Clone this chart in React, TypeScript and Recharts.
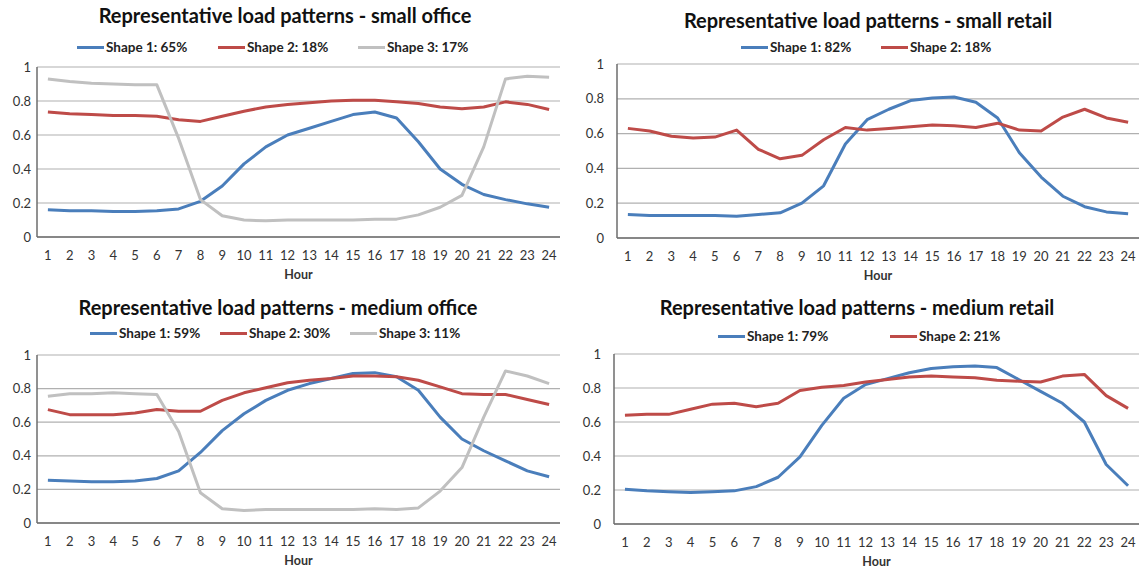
import { LineChart, Line, XAxis, YAxis, CartesianGrid } from "recharts"

const hours = [1, 2, 3, 4, 5, 6, 7, 8, 9, 10, 11, 12, 13, 14, 15, 16, 17, 18, 19, 20, 21, 22, 23, 24]
const yTicks = [0, 0.2, 0.4, 0.6, 0.8, 1]

// small office
const smallOffice1 = [0.16, 0.155, 0.155, 0.15, 0.15, 0.155, 0.165, 0.21, 0.3, 0.43, 0.53, 0.6, 0.64, 0.68, 0.72, 0.735, 0.7, 0.56, 0.4, 0.31, 0.25, 0.22, 0.195, 0.175]
const smallOffice2 = [0.735, 0.725, 0.72, 0.715, 0.715, 0.71, 0.69, 0.68, 0.71, 0.74, 0.765, 0.78, 0.79, 0.8, 0.805, 0.805, 0.795, 0.785, 0.765, 0.755, 0.765, 0.795, 0.78, 0.75]
const smallOffice3 = [0.93, 0.915, 0.905, 0.9, 0.895, 0.895, 0.58, 0.22, 0.125, 0.1, 0.095, 0.1, 0.1, 0.1, 0.1, 0.105, 0.105, 0.13, 0.175, 0.245, 0.53, 0.93, 0.945, 0.94]

// small retail
const smallRetail1 = [0.135, 0.13, 0.13, 0.13, 0.13, 0.125, 0.135, 0.145, 0.2, 0.3, 0.54, 0.68, 0.74, 0.79, 0.805, 0.81, 0.78, 0.69, 0.49, 0.35, 0.24, 0.18, 0.15, 0.14]
const smallRetail2 = [0.63, 0.615, 0.585, 0.575, 0.58, 0.62, 0.51, 0.455, 0.475, 0.565, 0.635, 0.62, 0.63, 0.64, 0.65, 0.645, 0.635, 0.66, 0.62, 0.615, 0.695, 0.74, 0.69, 0.665]

// medium office
const mediumOffice1 = [0.255, 0.25, 0.245, 0.245, 0.25, 0.265, 0.31, 0.42, 0.55, 0.65, 0.73, 0.79, 0.83, 0.86, 0.89, 0.895, 0.87, 0.79, 0.63, 0.5, 0.43, 0.37, 0.31, 0.275]
const mediumOffice2 = [0.675, 0.645, 0.645, 0.645, 0.655, 0.675, 0.665, 0.665, 0.73, 0.775, 0.805, 0.835, 0.85, 0.86, 0.875, 0.875, 0.87, 0.85, 0.81, 0.77, 0.765, 0.765, 0.735, 0.705]
const mediumOffice3 = [0.755, 0.77, 0.77, 0.775, 0.77, 0.765, 0.545, 0.18, 0.085, 0.075, 0.08, 0.08, 0.08, 0.08, 0.08, 0.085, 0.08, 0.09, 0.19, 0.33, 0.63, 0.905, 0.875, 0.83]

// medium retail
const mediumRetail1 = [0.205, 0.195, 0.19, 0.185, 0.19, 0.195, 0.22, 0.275, 0.395, 0.58, 0.74, 0.82, 0.855, 0.89, 0.915, 0.925, 0.93, 0.92, 0.85, 0.78, 0.71, 0.6, 0.35, 0.225]
const mediumRetail2 = [0.64, 0.645, 0.645, 0.675, 0.705, 0.71, 0.69, 0.71, 0.785, 0.805, 0.815, 0.835, 0.85, 0.865, 0.87, 0.865, 0.86, 0.845, 0.84, 0.835, 0.87, 0.88, 0.755, 0.68]

const BLUE = "#4a7ebb"
const RED = "#be4b48"
const GRAY = "#c0c0c0"
const FONT = "Lato, 'Open Sans', sans-serif"

type Series = { key: string; name: string; color: string; values: number[]; lx: number }

function Panel(props: {
  box: { x: number; y: number; w: number; h: number }
  plot: { l: number; t: number; r: number; b: number }
  yGap: number
  title: string
  titleX: number
  titleY: number
  legendY: number
  series: Series[]
}) {
  const { box, plot, yGap, title, titleX, titleY, legendY, series } = props
  const yW = 30
  const xH = 44
  const data = hours.map((h, i) => {
    const row: any = { hour: h }
    series.forEach(s => (row[s.key] = s.values[i]))
    return row
  })
  const pad = (plot.r - plot.l) / 48
  const margin = {
    left: plot.l - box.x - yW,
    top: plot.t - box.y,
    right: box.x + box.w - plot.r,
    bottom: box.y + box.h - plot.b - xH,
  }
  const tickStyle = { fontSize: 13, fill: "#333", fontFamily: FONT }

  return (
    <div style={{ position: "absolute", left: box.x, top: box.y, width: box.w, height: box.h }}>
      <div style={{ position: "absolute", left: titleX - box.x - 250, top: titleY - box.y - 12, width: 500, textAlign: "center", fontFamily: FONT, fontWeight: 700, fontSize: 20, lineHeight: "24px", color: "#111" }}>
        {title}
      </div>
      {series.map(s => (
        <div key={s.key} style={{ position: "absolute", left: s.lx - box.x, top: legendY - box.y - 9, height: 18, display: "flex", alignItems: "center", whiteSpace: "nowrap", fontFamily: FONT, fontWeight: 700, fontSize: 13.5, color: "#222" }}>
          <span style={{ display: "inline-block", width: 27, height: 3, background: s.color, marginRight: 2 }} />
          {s.name}
        </div>
      ))}
      <LineChart width={box.w} height={box.h} data={data} margin={margin}>
        <CartesianGrid vertical={false} stroke="#b0b0b0" strokeWidth={1.2} />
        <XAxis
          dataKey="hour"
          height={xH}
          padding={{ left: pad, right: pad }}
          tickLine={false}
          tickSize={0}
          tickMargin={14}
          interval={0}
          axisLine={{ stroke: "#6d6d6d", strokeWidth: 1.5 }}
          tick={tickStyle}
          label={{ value: "Hour", position: "insideBottom", offset: 2, style: { fontSize: 12.5, fontWeight: 700, fill: "#333", fontFamily: FONT } }}
        />
        <XAxis xAxisId="top" dataKey="hour" orientation="top" height={0} tick={false} tickLine={false} axisLine={{ stroke: "#6d6d6d", strokeWidth: 1.5 }} />
        <YAxis
          width={yW}
          domain={[0, 1]}
          ticks={yTicks}
          tickLine={false}
          tickSize={0}
          tickMargin={yGap}
          axisLine={{ stroke: "#6d6d6d", strokeWidth: 1.5 }}
          tick={tickStyle}
        />
        <YAxis yAxisId="right" orientation="right" width={0} tick={false} tickLine={false} axisLine={{ stroke: "#6d6d6d", strokeWidth: 1.5 }} />
        {series.map(s => (
          <Line key={s.key} type="linear" dataKey={s.key} name={s.name} stroke={s.color} strokeWidth={3} strokeLinejoin="round" dot={false} isAnimationActive={false} />
        ))}
      </LineChart>
    </div>
  )
}

export default function App() {
  return (
    <div style={{ position: "absolute", left: 0, top: 0, width: 1139, height: 569, overflow: "hidden", background: "#fff" }}>
      <Panel
        box={{ x: 0, y: 0, w: 575, h: 285 }}
        plot={{ l: 37, t: 67, r: 560, b: 237 }}
        yGap={6}
        title="Representative load patterns - small office"
        titleX={285}
        titleY={15}
        legendY={47}
        series={[
          { key: "s1", name: "Shape 1: 65%", color: BLUE, values: smallOffice1, lx: 77 },
          { key: "s2", name: "Shape 2: 18%", color: RED, values: smallOffice2, lx: 218 },
          { key: "s3", name: "Shape 3: 17%", color: GRAY, values: smallOffice3, lx: 358 },
        ]}
      />
      <Panel
        box={{ x: 575, y: 0, w: 564, h: 285 }}
        plot={{ l: 617, t: 64, r: 1139, b: 238 }}
        yGap={13}
        title="Representative load patterns - small retail"
        titleX={868}
        titleY={20}
        legendY={47}
        series={[
          { key: "s1", name: "Shape 1: 82%", color: BLUE, values: smallRetail1, lx: 741 },
          { key: "s2", name: "Shape 2: 18%", color: RED, values: smallRetail2, lx: 881 },
        ]}
      />
      <Panel
        box={{ x: 0, y: 285, w: 575, h: 284 }}
        plot={{ l: 37, t: 355, r: 560, b: 523 }}
        yGap={6}
        title="Representative load patterns - medium office"
        titleX={278}
        titleY={307}
        legendY={333}
        series={[
          { key: "s1", name: "Shape 1: 59%", color: BLUE, values: mediumOffice1, lx: 90 },
          { key: "s2", name: "Shape 2: 30%", color: RED, values: mediumOffice2, lx: 220 },
          { key: "s3", name: "Shape 3: 11%", color: GRAY, values: mediumOffice3, lx: 350 },
        ]}
      />
      <Panel
        box={{ x: 575, y: 285, w: 564, h: 284 }}
        plot={{ l: 614, t: 354, r: 1139, b: 524 }}
        yGap={13}
        title="Representative load patterns - medium retail"
        titleX={857}
        titleY={307}
        legendY={336}
        series={[
          { key: "s1", name: "Shape 1: 79%", color: BLUE, values: mediumRetail1, lx: 718 },
          { key: "s2", name: "Shape 2: 21%", color: RED, values: mediumRetail2, lx: 890 },
        ]}
      />
    </div>
  )
}
